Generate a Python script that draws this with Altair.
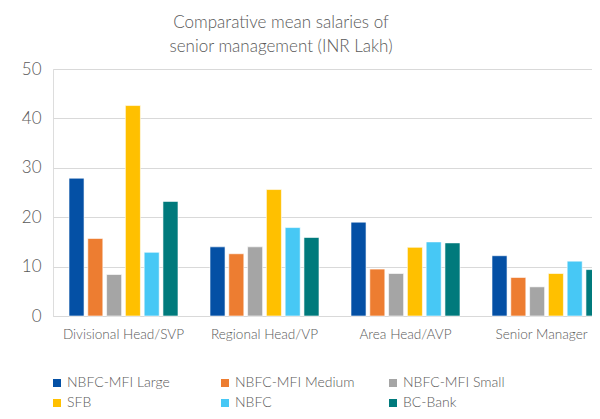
import altair as alt
import pandas as pd

roles = ["Divisional Head/SVP", "Regional Head/VP", "Area Head/AVP", "Senior Manager"]
series = ["NBFC-MFI Large", "NBFC-MFI Medium", "NBFC-MFI Small", "SFB", "NBFC", "BC-Bank"]
colors = ["#0450A5", "#ED7D31", "#A5A5A5", "#FFC000", "#47C8F5", "#007A7C"]

nbfc_mfi_large = [27.9, 14.0, 19.0, 12.2]
nbfc_mfi_medium = [15.7, 12.6, 9.5, 7.8]
nbfc_mfi_small = [8.4, 14.0, 8.6, 5.9]
sfb = [42.6, 25.6, 13.9, 8.6]
nbfc = [12.9, 17.9, 15.0, 11.1]
bc_bank = [23.2, 15.9, 14.8, 9.4]

values = [nbfc_mfi_large, nbfc_mfi_medium, nbfc_mfi_small, sfb, nbfc, bc_bank]
rows = []
for s, vals in zip(series, values):
    for r, v in zip(roles, vals):
        rows.append({"role": r, "series": s, "value": v})
df = pd.DataFrame(rows)

font = "Lato"
txt = "#595959"
fw = 300
W = 539

chart = alt.Chart(df).mark_bar(stroke="white", strokeWidth=0.6).encode(
    x=alt.X("role:N", sort=roles, title=None,
            scale=alt.Scale(paddingInner=0.227, paddingOuter=0.1135, range=[0, 564]),
            axis=alt.Axis(labelAngle=0, labelFontSize=13.6, labelColor=txt, labelFont=font,
                          labelFontWeight=fw,
                          labelOffset={"condition": {"test": "datum.value === 'Senior Manager'",
                                                     "value": -5}, "value": 0},
                          ticks=False, domainColor="#D9D9D9", labelPadding=11)),
    xOffset=alt.XOffset("series:N", sort=series, scale=alt.Scale(paddingInner=0.2)),
    y=alt.Y("value:Q", title=None,
            scale=alt.Scale(domain=[0, 50]),
            axis=alt.Axis(values=[0, 10, 20, 30, 40, 50], labelFontSize=17, labelColor=txt,
                          labelFont=font, labelFontWeight=fw, ticks=False, domain=False,
                          gridColor="#D9D9D9", labelPadding=12)),
    color=alt.Color("series:N", sort=series,
                    scale=alt.Scale(domain=series, range=colors),
                    legend=alt.Legend(title=None, orient="none", legendX=-3, legendY=307,
                                      columns=3, direction="horizontal", gridAlign="all",
                                      columnPadding=31,
                                      rowPadding=6, symbolType="square", symbolSize=64,
                                      symbolStrokeWidth=0,
                                      labelFontSize=14, labelColor=txt, labelFont=font,
                                      labelFontWeight=fw, labelOffset=3)),
).properties(
    width=W,
    height=247,
    autosize=alt.AutoSizeParams(type="none"),
    padding={"left": 45, "top": 61, "right": 0, "bottom": 95},
    title=alt.TitleParams(
        text=["Comparative mean salaries of", "senior management (INR Lakh)"],
        fontSize=17, font=font, color=txt, fontWeight=fw,
        anchor="middle", dx=228 - W / 2, lineHeight=24, offset=4,
    ),
).configure_view(stroke=None).configure(background="white")

chart.save("out.html", embed_options={"renderer": "svg", "actions": False})
